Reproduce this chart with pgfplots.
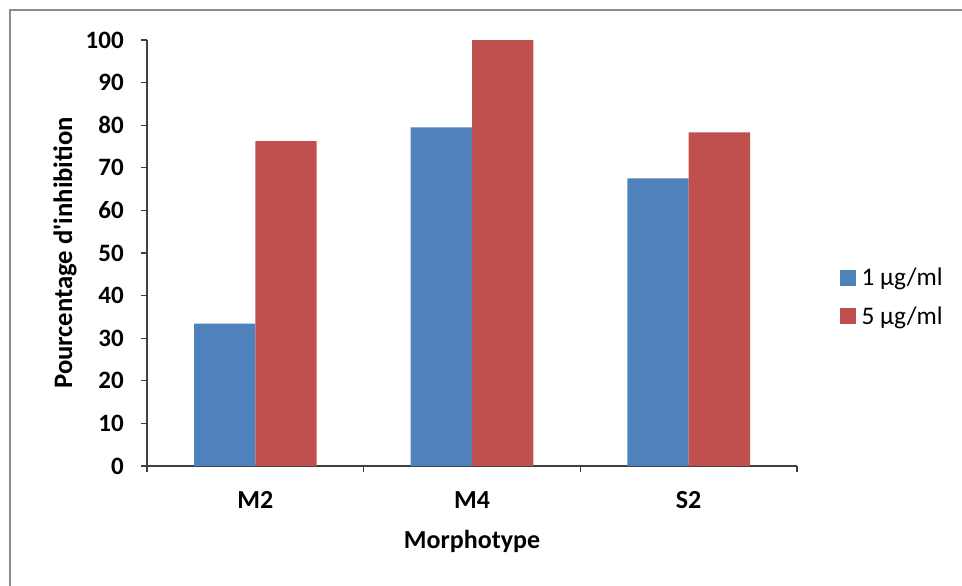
\documentclass[border=0pt]{standalone}
\usepackage{pgfplots}
\pgfplotsset{compat=1.18}
\usepackage{fontspec}
\setmainfont{Carlito}
\definecolor{xlblue}{HTML}{4F81BD}
\definecolor{xlred}{HTML}{C0504D}
\definecolor{framegray}{HTML}{8C8C8C}
\begin{document}
\begin{tikzpicture}
\useasboundingbox (0pt,0pt) rectangle (721.5pt,-438.75pt);
\fill[white] (0pt,0pt) rectangle (721.5pt,-438.75pt);
\draw[framegray, line width=2pt] (7.5pt,-800pt) -- (7.5pt,-7.5pt) -- (800pt,-7.5pt);
\begin{axis}[
  at={(110.25pt,-349.5pt)}, anchor=south west,
  scale only axis, width=487.5pt, height=319.5pt,
  ybar=0pt, bar width=46pt,
  xmin=-0.5, xmax=2.5, ymin=0, ymax=100,
  axis lines*=left,
  axis line style={black!75, line width=0.8pt},
  tick style={black!75, line width=0.8pt},
  tick align=outside, major tick length=4.5pt,
  xtick={-0.5,0.5,1.5,2.5}, xticklabels={},
  extra x ticks={0,1,2}, extra x tick labels={M2,M4,S2},
  extra x tick style={major tick length=0pt},
  xticklabel style={anchor=base, yshift=-31.5pt, font=\bfseries\fontsize{19.5}{22}\selectfont},
  ytick={0,10,...,100},
  yticklabel style={anchor=east, inner sep=0pt, xshift=-12.75pt, font=\bfseries\fontsize{18.75}{22}\selectfont},
  /pgf/number format/assume math mode=true,
  xlabel={Morphotype},
  ylabel={Pourcentage d\textquotesingle inhibition},
  xlabel style={at={(axis description cs:0.5,-0.176)}, anchor=center, font=\bfseries\fontsize{19.5}{22}\selectfont},
  ylabel style={at={(axis description cs:-0.126,0.5)}, anchor=center, font=\bfseries\fontsize{20}{22}\selectfont},
  legend style={draw=none, fill=none, at={(axis description cs:1.066,0.396)}, anchor=west,
    font=\fontsize{19}{22}\selectfont, inner sep=0pt, row sep=10pt,
    /tikz/every even column/.append style={column sep=0pt},
    nodes={inner xsep=4pt}},
  legend cell align=left,
  legend image code/.code={\fill[#1] (0pt,-6pt) rectangle (12pt,6pt);},
]
\addplot[fill=xlblue, draw=none] coordinates {(0,33.4) (1,79.5) (2,67.5)};
\addplot[fill=xlred, draw=none] coordinates {(0,76.25) (1,100) (2,78.3)};
\legend{1 µg/ml, 5 µg/ml}
\end{axis}
\end{tikzpicture}
\end{document}
